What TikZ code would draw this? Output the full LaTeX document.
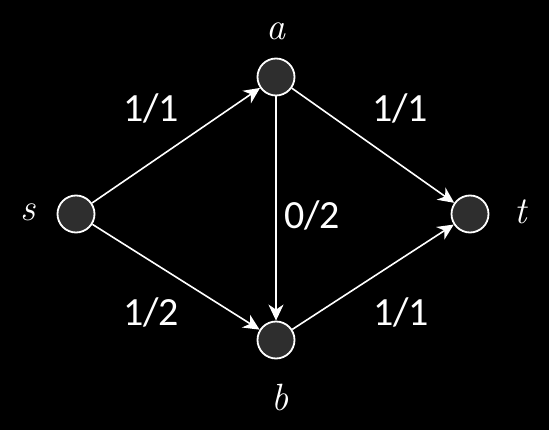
\documentclass[tikz,border=0pt]{standalone}
\usepackage{fontspec}
\newfontfamily\flowfont{Carlito}
\usetikzlibrary{arrows.meta}
\begin{document}
\begin{tikzpicture}[x=1pt,y=-1pt,
  vertex/.style={circle,draw=white,fill=black!82,line width=1.8pt,minimum size=37pt,inner sep=0pt},
  vname/.style={text=white,font=\itshape\fontsize{38}{40}\selectfont},
  flow/.style={text=white,font=\flowfont\fontsize{40}{44}\selectfont},
  edge/.style={draw=white,line width=1.6pt,-{Stealth[length=16pt,width=15pt,inset=5pt]}}]
\fill[black] (0,0) rectangle (549,430);
\useasboundingbox (0,0) rectangle (549,430);
\node[vertex] (s) at (76,214) {};
\node[vertex] (a) at (276,77) {};
\node[vertex] (b) at (276,340) {};
\node[vertex] (t) at (470,214) {};
\node[vname] (ls) at (28,212) {s};
\node[vname] (la) at (276,31) {a};
\node[vname] (lb) at (280,398) {b};
\node[vname] (lt) at (521,212) {t};
\draw[edge] (s) -- (a);
\draw[edge] (s) -- (b);
\draw[edge] (a) -- (b);
\draw[edge] (a) -- (t);
\draw[edge] (b) -- (t);
\node[flow] (f1) at (151,108) {1/1};
\node[flow] (f2) at (400,108) {1/1};
\node[flow] (f3) at (312,215) {0/2};
\node[flow] (f4) at (151,312) {1/2};
\node[flow] (f5) at (401,312) {1/1};
\end{tikzpicture}
\end{document}
